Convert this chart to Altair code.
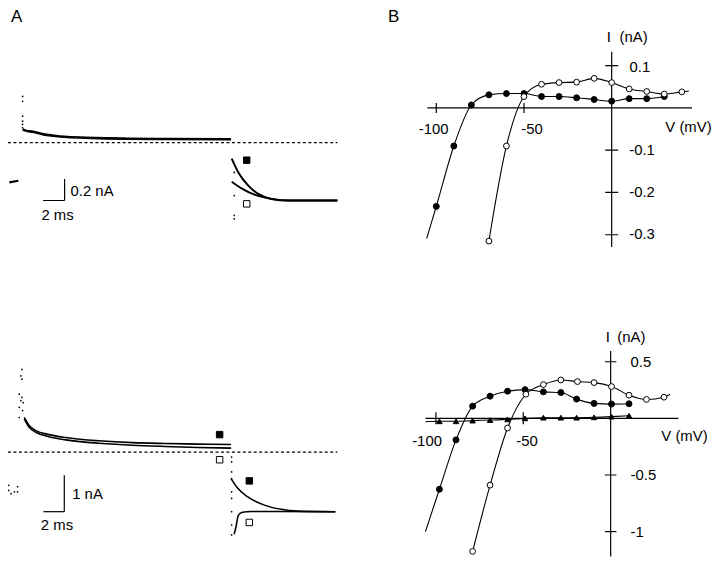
import altair as alt
import pandas as pd

FONT = "Liberation Sans"

# ---------------- Panel A, top (t in ms, I in nA) ----------------
a1_main_t = [0, 0.3, 1, 2, 3, 4, 6, 8, 10, 14, 20]
a1_main_i = [0.123, 0.112, 0.1015, 0.077, 0.065, 0.055, 0.046, 0.04, 0.037, 0.034, 0.031]
a1_tailF_t = [20.06, 20.7, 21.65, 22.6, 23.87, 25.5, 30.2]
a1_tailF_i = [-0.148, -0.277, -0.4, -0.477, -0.523, -0.538, -0.538]
a1_tailO_t = [20.06, 21.0, 22.3, 23.87, 25.5, 30.2]
a1_tailO_i = [-0.363, -0.425, -0.486, -0.523, -0.538, -0.538]
a1_hold_t = [-1.27, -0.41]
a1_hold_i = [-0.37, -0.354]
a1_dots_t = [0, 0, 0, 0, 0, 0, 20.3, 20.3, 20.3, 20.3]
a1_dots_i = [0.43, 0.385, 0.246, 0.2, 0.17, 0.138, -0.277, -0.492, -0.677, -0.708]
a1_sq_t = [21.5, 21.5]
a1_sq_i = [-0.163, -0.569]
a1_sq_fill = ["black", "white"]

# ---------------- Panel A, bottom ----------------
a2_upper_t = [0.16, 0.63, 1.27, 2.54, 4.13, 5.71, 7.3, 10.5, 13.65, 16.8, 20.0]
a2_upper_i = [0.95, 0.73, 0.59, 0.48, 0.4, 0.345, 0.31, 0.26, 0.236, 0.22, 0.21]
a2_lower_t = [0.16, 0.63, 1.27, 2.54, 4.13, 5.71, 7.3, 10.5, 13.65, 16.8, 20.0]
a2_lower_i = [0.91, 0.68, 0.545, 0.42, 0.336, 0.28, 0.245, 0.19, 0.155, 0.127, 0.11]
a2_tailF_t = [20.0, 20.6, 21.6, 23.2, 24.8, 26.35, 30.0]
a2_tailF_i = [-0.727, -0.98, -1.23, -1.455, -1.57, -1.62, -1.635]
a2_tailO_t = [20.3, 20.48, 20.7, 21.1, 21.9, 24.0, 30.0]
a2_tailO_i = [-2.25, -2.04, -1.73, -1.65, -1.63, -1.63, -1.635]
a2_dots_t = [-0.06, -0.16, -0.06, -0.32, -0.06, -0.16, 0.06, -0.32, 0.0, -0.32,
             20.05, 20.05, 20.05, 20.05, 20.05, 20.05, 20.05, 20.05, 20.05,
             -1.33, -1.33, -1.11, -0.79, -0.48, -0.48]
a2_dots_i = [2.27, 2.09, 2.0, 1.59, 1.5, 1.41, 1.36, 1.23, 1.14, 0.95,
             -0.136, -0.27, -0.545, -0.727, -1.09, -1.27, -1.636, -2.0, -2.27,
             -0.91, -1.05, -1.14, -1.09, -0.95, -1.09]
a2_sq_t = [18.9, 18.9, 21.75, 21.75]
a2_sq_i = [0.48, -0.21, -0.79, -1.93]
a2_sq_fill = ["black", "white", "black", "white"]

# ---------------- Panel B, top (V in mV, I in nA) ----------------
b1_filled_v = [-100, -90, -80, -70, -60, -50, -40, -30, -20, -10, 0, 10, 20, 30]
b1_filled_i = [-0.233, -0.09, 0.007, 0.031, 0.034, 0.034, 0.027, 0.027, 0.024, 0.02, 0.016, 0.022, 0.022, 0.027]
b1_open_v = [-70, -60, -50, -40, -30, -20, -10, 0, 10, 20, 30, 40]
b1_open_i = [-0.315, -0.09, 0.027, 0.056, 0.06, 0.061, 0.07, 0.06, 0.045, 0.039, 0.033, 0.038]
b1_filled_start = (-105.5, -0.309)
b1_open_end = (44, 0.04)

# ---------------- Panel B, bottom ----------------
b2_filled_v = [-98, -88.5, -79, -69, -59, -49, -38.5, -28.5, -19.5, -9.5, 0.5, 10.5]
b2_filled_i = [-0.626, -0.19, 0.108, 0.196, 0.24, 0.254, 0.234, 0.228, 0.17, 0.132, 0.126, 0.129]
b2_open_v = [-79, -69, -59, -48.5, -38.5, -28.5, -19, -9.5, 0.5, 10.5, 20.5, 30.5]
b2_open_i = [-1.175, -0.59, -0.085, 0.213, 0.298, 0.339, 0.325, 0.316, 0.281, 0.205, 0.167, 0.187]
b2_tri_v = [-98, -88.5, -79, -69, -59, -49, -38.5, -28.5, -19.5, -9.5, 0.5, 10.5]
b2_tri_i = [-0.026, -0.026, -0.02, -0.015, -0.009, 0.0, 0.006, 0.006, 0.006, 0.009, 0.015, 0.023]
b2_filled_start = (-106, -1.0)
b2_open_end = (34, 0.213)
b2_tri_start = (-106, -0.03)

# tick values / labels
b1_xticks = [-100, -50]
b1_yticks = [0.1, -0.1, -0.2, -0.3]
b2_xticks = [-100, -50]
b2_yticks = [0.5, -0.5, -1]

WA, WB = 337, 333
H1, H2 = 262, 274
A_XDOM = [-1.4, 30.7]
A1_YDOM = [-1.185, 1.234]
A2_YDOM = [-2.88, 4.586]
B1_XDOM = [-131.33, 57.2]
B1_YDOM = [-0.3837, 0.2319]
B2_XDOM = [-131.23, 58.0]
B2_YDOM = [-1.225, 1.178]
LBL = 15


def xy(xdom, ydom):
    return dict(
        x=alt.X("x:Q", scale=alt.Scale(domain=xdom, nice=False, zero=False), axis=None),
        y=alt.Y("y:Q", scale=alt.Scale(domain=ydom, nice=False, zero=False), axis=None),
    )


def line(xs, ys, xdom, ydom, width=1.2, interp="monotone"):
    df = pd.DataFrame({"x": xs, "y": ys, "o": list(range(len(xs)))})
    return alt.Chart(df).mark_line(color="black", strokeWidth=width, interpolate=interp, clip=True).encode(
        order="o:Q", **xy(xdom, ydom))


def points(xs, ys, xdom, ydom, shape="circle", fill="black", size=36, sw=1.0):
    df = pd.DataFrame({"x": xs, "y": ys})
    return alt.Chart(df).mark_point(shape=shape, filled=True, fill=fill, stroke="black",
                                     strokeWidth=sw, size=size, opacity=1, clip=True).encode(**xy(xdom, ydom))


def rules(x1, x2, y1, y2, xdom, ydom, width=1.2, dash=None):
    df = pd.DataFrame({"x": x1, "x2": x2, "y": y1, "y2": y2})
    kw = dict(color="black", strokeWidth=width, clip=True)
    if dash:
        kw["strokeDash"] = dash
    e = xy(xdom, ydom)
    return alt.Chart(df).mark_rule(**kw).encode(x=e["x"], y=e["y"], x2="x2:Q", y2="y2:Q")


def texts(xs, ys, labels, xdom, ydom, size=LBL, align="left"):
    df = pd.DataFrame({"x": xs, "y": ys, "t": labels})
    return alt.Chart(df).mark_text(align=align, baseline="alphabetic", font=FONT, fontSize=size,
                                   color="black", clip=True).encode(text="t:N", **xy(xdom, ydom))


def squares(ts, vals, fills, xdom, ydom):
    df = pd.DataFrame({"x": ts, "y": vals, "f": fills})
    return alt.Chart(df).mark_point(shape="square", filled=True, stroke="black", strokeWidth=1,
                                    size=42, opacity=1, clip=True).encode(
        fill=alt.Fill("f:N", scale=None), **xy(xdom, ydom))


# ---------- Panel A top ----------
d, r = A_XDOM, A1_YDOM
A1 = alt.layer(
    rules([-1.4], [30.2], [0], [0], d, r, width=1.2, dash=[3, 2.5]),
    line(a1_main_t, a1_main_i, d, r, width=2.6),
    line(a1_tailF_t, a1_tailF_i, d, r, width=2.0),
    line(a1_tailO_t, a1_tailO_i, d, r, width=1.8),
    line(a1_hold_t, a1_hold_i, d, r, width=2.2, interp="linear"),
    points(a1_dots_t, a1_dots_i, d, r, size=3, sw=0),
    squares(a1_sq_t, a1_sq_i, a1_sq_fill, d, r),
    rules([4.03, 1.96], [4.03, 4.03], [-0.338, -0.538], [-0.538, -0.538], d, r, width=1.2),
    texts([4.6, 1.81], [-0.492, -0.717], ["0.2 nA", "2 ms"], d, r),
    texts([-1.11], [1.124], ["A"], d, r, size=17),
).properties(width=WA, height=H1)

# ---------- Panel A bottom ----------
d, r = A_XDOM, A2_YDOM
A2 = alt.layer(
    rules([-1.4], [30.2], [0], [0], d, r, width=1.2, dash=[3, 2.5]),
    line(a2_upper_t, a2_upper_i, d, r, width=1.6),
    line(a2_lower_t, a2_lower_i, d, r, width=1.6),
    line(a2_tailF_t, a2_tailF_i, d, r, width=1.6),
    line(a2_tailO_t, a2_tailO_i, d, r, width=1.6),
    points(a2_dots_t, a2_dots_i, d, r, size=3, sw=0),
    squares(a2_sq_t, a2_sq_i, a2_sq_fill, d, r),
    rules([4.0, 2.0], [4.0, 4.0], [-0.637, -1.635], [-1.635, -1.635], d, r, width=1.2),
    texts([4.76, 1.75], [-1.29, -2.15], ["1 nA", "2 ms"], d, r),
).properties(width=WA, height=H2)

# ---------- Panel B top ----------
d, r = B1_XDOM, B1_YDOM
b1_fl_v = [b1_filled_start[0]] + b1_filled_v
b1_fl_i = [b1_filled_start[1]] + b1_filled_i
b1_ol_v = b1_open_v + [b1_open_end[0]]
b1_ol_i = b1_open_i + [b1_open_end[1]]
B1 = alt.layer(
    rules([-105.1, 0], [45.8, 0], [0, 0.133], [0, -0.329], d, r, width=1.2),
    rules(b1_xticks, b1_xticks, [0.0117] * 2, [-0.0117] * 2, d, r, width=1.2),
    rules([-3.7] * 4, [3.7] * 4, b1_yticks, b1_yticks, d, r, width=1.2),
    line(b1_fl_v, b1_fl_i, d, r, width=1.1),
    line(b1_ol_v, b1_ol_i, d, r, width=1.1),
    points(b1_filled_v, b1_filled_i, d, r, fill="black", size=36),
    points(b1_open_v, b1_open_i, d, r, fill="white", size=34),
    texts([10.2, 10.0, 10.0, 10.0], [0.0862, -0.111, -0.2115, -0.311], ["0.1", "-0.1", "-0.2", "-0.3"], d, r),
    texts([-110, -51.5], [-0.0625, -0.0625], ["-100", "-50"], d, r),
    texts([30.6], [-0.057], ["V (mV)"], d, r),
    texts([-2.8, 4.5], [0.1567, 0.1567], ["I", "(nA)"], d, r),
    texts([-127.5], [0.2037], ["B"], d, r, size=17),
).properties(width=WB, height=H1)

# ---------- Panel B bottom ----------
d, r = B2_XDOM, B2_YDOM
b2_fl_v = [b2_filled_start[0]] + b2_filled_v
b2_fl_i = [b2_filled_start[1]] + b2_filled_i
b2_ol_v = b2_open_v + [b2_open_end[0]]
b2_ol_i = b2_open_i + [b2_open_end[1]]
b2_tl_v = [b2_tri_start[0]] + b2_tri_v
b2_tl_i = [b2_tri_start[1]] + b2_tri_i
B2 = alt.layer(
    rules([-106, 0], [38.8, 0], [0, 0.594], [0, -1.219], d, r, width=1.2),
    rules(b2_xticks, b2_xticks, [0.053] * 2, [-0.053] * 2, d, r, width=1.2),
    rules([-3.3] * 3, [3.3] * 3, b2_yticks, b2_yticks, d, r, width=1.2),
    line(b2_tl_v, b2_tl_i, d, r, width=1.1),
    line(b2_fl_v, b2_fl_i, d, r, width=1.1),
    line(b2_ol_v, b2_ol_i, d, r, width=1.1),
    points(b2_tri_v, b2_tri_i, d, r, shape="triangle-up", fill="black", size=30),
    points(b2_filled_v, b2_filled_i, d, r, fill="black", size=36),
    points(b2_open_v, b2_open_i, d, r, fill="white", size=34),
    texts([11.4, 11.4, 11.4], [0.453, -0.541, -1.05], ["0.5", "-0.5", "-1"], d, r),
    texts([-113.6, -54], [-0.24, -0.24], ["-100", "-50"], d, r),
    texts([29], [-0.196], ["V (mV)"], d, r),
    texts([-2.8, 3.8], [0.672, 0.672], ["I", "(nA)"], d, r),
).properties(width=WB, height=H2)

chart = alt.vconcat(
    alt.hconcat(A1, B1, spacing=39),
    alt.hconcat(A2, B2, spacing=39),
    spacing=15,
).properties(padding=0).configure_view(stroke=None, fill="white")

chart.save("out.html", embed_options={"renderer": "svg", "actions": False})
